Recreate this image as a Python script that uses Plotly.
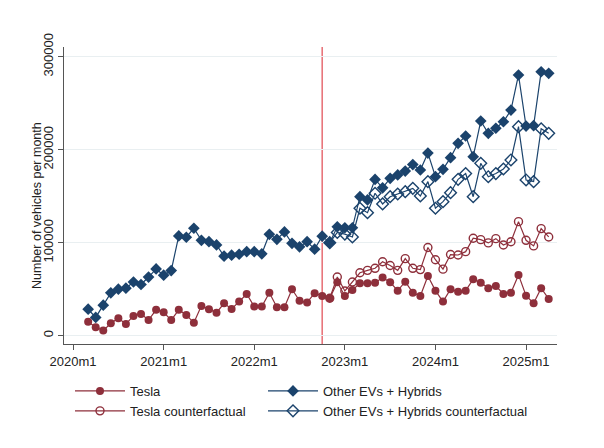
import plotly.graph_objects as go

# ---------------- data (monthly, index 0 = 2020m1) ----------------
tick_months = [0, 12, 24, 36, 48, 60]
tick_labels = ["2020m1", "2021m1", "2022m1", "2023m1", "2024m1", "2025m1"]
y_ticks = [0, 100000, 200000, 300000]
y_tick_labels = ["0", "100000", "200000", "300000"]
y_title = "Number of vehicles per month"

first_month = 2      # 2020m3
cf_first_month = 34  # 2022m11
event_month = 33     # 2022m10

tesla = [15000, 9000, 5400, 13300, 18700, 12600, 21200, 23300, 16800, 27800,
         25100, 16700, 27800, 22300, 13800, 32000, 28400, 24700, 34800, 28700,
         36600, 44800, 31200, 31200, 46200, 30500, 30500, 49900, 37500, 35700,
         45600, 42700, 40200, 57400, 42700, 49100, 56300, 56300, 57000, 62400,
         57400, 48400, 58000, 46200, 42700, 64200, 48400, 36600, 49900, 47300,
         48400, 60600, 57000, 51000, 53400, 44800, 46200, 65300, 43000, 34800,
         51000, 39500]

others = [28400, 19600, 32800, 46000, 50000, 51000, 57700, 55000, 63000, 71700,
          65000, 70000, 107200, 105800, 115500, 102500, 101000, 97500, 85500, 86500,
          87500, 90300, 90300, 88000, 109000, 103600, 111500, 99300, 95500, 101000,
          93000, 107000, 100000, 117000, 116000, 116000, 149400, 145900, 168000, 159000,
          169200, 172800, 177000, 184000, 178100, 196300, 170900, 178900, 191400, 206800,
          214700, 192400, 230800, 217600, 223000, 230000, 242600, 280300, 225400, 225800,
          283800, 282100]

tesla_cf = [40200, 63000, 48000, 57700, 67600, 70200, 72400, 79400, 75400, 70200,
            82800, 72400, 71000, 94800, 81600, 71500, 87200, 86700, 90300, 104700,
            103200, 99700, 104300, 97500, 101000, 122600, 102500, 96500, 115100, 106100]

others_cf = [100000, 111000, 109200, 106100, 137000, 132200, 153100, 141600, 149400, 152300,
             154800, 158400, 150200, 165600, 137000, 144100, 153700, 168100, 174300, 149400,
             185300, 170900, 174300, 179200, 188900, 224700, 167400, 165600, 222500, 217600]

x_act = list(range(first_month, first_month + len(tesla)))
x_cf = list(range(cf_first_month, cf_first_month + len(tesla_cf)))

RED = "#8E2F3B"
BLUE = "#1B436C"
FONT = "Liberation Sans, Arial, sans-serif"
TXT = "#222222"

fig = go.Figure()

fig.add_trace(go.Scatter(
    x=x_act, y=tesla, name="Tesla", mode="lines+markers",
    line=dict(color=RED, width=1.2),
    marker=dict(symbol="circle", size=8, color=RED),
    legend="legend"))
fig.add_trace(go.Scatter(
    x=x_cf, y=tesla_cf, name="Tesla counterfactual", mode="lines+markers",
    line=dict(color=RED, width=1.2),
    marker=dict(symbol="circle-open", size=8, color=RED, line=dict(width=1.4, color=RED)),
    legend="legend"))
fig.add_trace(go.Scatter(
    x=x_act, y=others, name="Other EVs + Hybrids", mode="lines+markers",
    line=dict(color=BLUE, width=1.2),
    marker=dict(symbol="diamond", size=9, color=BLUE),
    legend="legend2"))
fig.add_trace(go.Scatter(
    x=x_cf, y=others_cf, name="Other EVs + Hybrids counterfactual", mode="lines+markers",
    line=dict(color=BLUE, width=1.2),
    marker=dict(symbol="diamond-open", size=9, color=BLUE, line=dict(width=1.4, color=BLUE)),
    legend="legend2"))

fig.add_shape(type="line", x0=event_month, x1=event_month, y0=0, y1=1,
              xref="x", yref="paper", line=dict(color="#E8767C", width=1.6), layer="below")

# page has an 8px body margin; figure coordinates are page coordinates minus 8
W, H = 588, 432
L, R, T, B = 56, 39, 39, 96
pw = W - L - R
ph = H - T - B

def px_to_paper_x(p):
    return (p - L) / pw

def px_to_paper_y(p):
    return (H - B - p) / ph

legend_common = dict(
    orientation="v", yanchor="top", xanchor="left",
    font=dict(family=FONT, size=13, color=TXT),
    bgcolor="rgba(0,0,0,0)", borderwidth=0, tracegroupgap=0,
    itemwidth=50,
)

fig.add_annotation(
    text=y_title, textangle=-90, showarrow=False,
    xref="paper", yref="paper",
    x=px_to_paper_x(29), y=px_to_paper_y(198),
    xanchor="center", yanchor="middle",
    font=dict(family=FONT, size=12.5, color=TXT),
)

fig.update_layout(
    width=W, height=H,
    margin=dict(l=L, r=R, t=T, b=B),
    paper_bgcolor="white", plot_bgcolor="white",
    font=dict(family=FONT, size=13, color=TXT),
    showlegend=True,
    legend=dict(x=px_to_paper_x(62), y=px_to_paper_y(368), **legend_common),
    legend2=dict(x=px_to_paper_x(255), y=px_to_paper_y(368), **legend_common),
    xaxis=dict(
        range=[-1.2, 64.1], tickmode="array", tickvals=tick_months, ticktext=tick_labels,
        showgrid=False, zeroline=False, showline=True, linecolor="#555555", linewidth=1,
        ticks="outside", ticklen=5, tickcolor="#555555",
        tickfont=dict(family=FONT, size=13, color=TXT),
    ),
    yaxis=dict(
        range=[-9000, 310400], tickmode="array", tickvals=y_ticks, ticktext=y_tick_labels,
        tickangle=-90,
        showgrid=True, gridcolor="#E9EFF1", gridwidth=1, zeroline=False,
        showline=True, linecolor="#555555", linewidth=1,
        ticks="outside", ticklen=5, tickcolor="#555555",
        tickfont=dict(family=FONT, size=13, color=TXT),
    ),
)

fig.write_html("out.html")
